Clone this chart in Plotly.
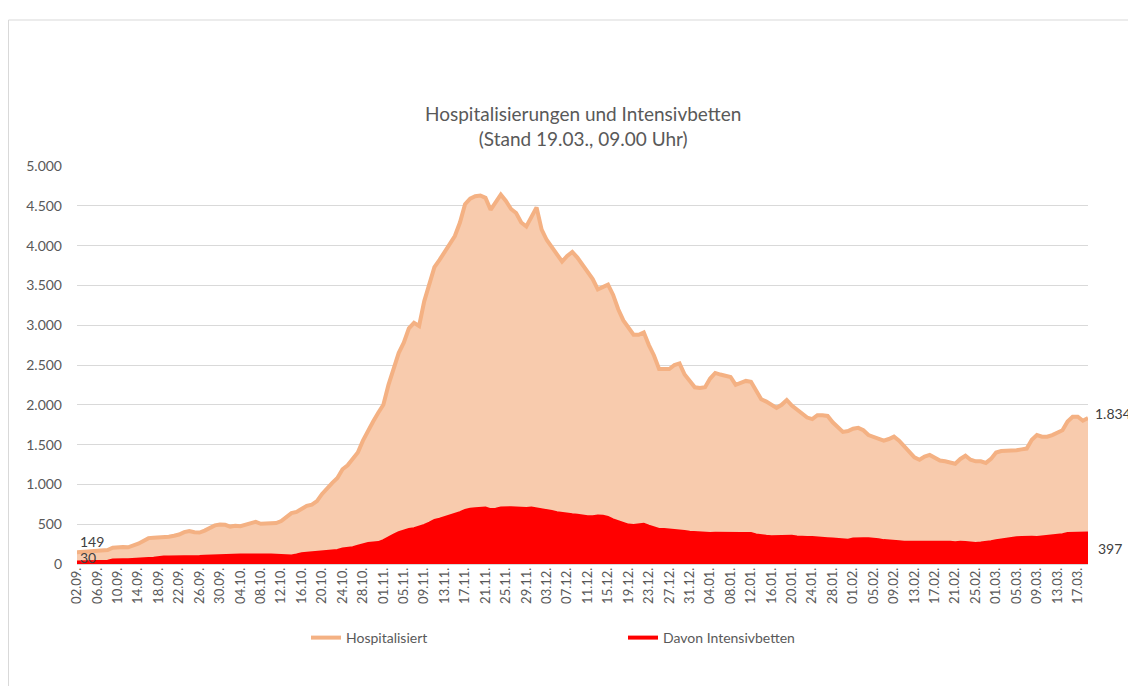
import pandas as pd
import plotly.graph_objects as go

# ---- data ----
dates = [d.strftime("%d.%m.") for d in pd.date_range("2020-09-02", "2021-03-19", freq="D")]

hospitalisiert = [
    149, 155, 160, 165, 170, 172, 176, 205, 212, 212,
    210, 230, 255, 290, 325, 330, 332, 338, 342, 355,
    370, 400, 415, 400, 395, 420, 455, 485, 495, 492,
    470, 480, 475, 490, 505, 530, 505, 505, 510, 515,
    540, 590, 640, 655, 690, 730, 745, 790, 880, 960,
    1020, 1080, 1190, 1240, 1330, 1400, 1550, 1680, 1790, 1900,
    2000, 2250, 2470, 2650, 2780, 2960, 3030, 2990, 3300, 3530,
    3730, 3820, 3920, 4000, 4120, 4290, 4520, 4590, 4620, 4630,
    4600, 4450, 4550, 4640, 4560, 4460, 4410, 4290, 4240, 4350,
    4480, 4200, 4070, 3980, 3880, 3800, 3870, 3920, 3850, 3760,
    3650, 3580, 3450, 3480, 3510, 3380, 3200, 3060, 2960, 2880,
    2880, 2910, 2750, 2620, 2450, 2450, 2450, 2500, 2520, 2380,
    2300, 2220, 2210, 2220, 2330, 2400, 2380, 2370, 2350, 2250,
    2280, 2300, 2290, 2180, 2070, 2040, 2000, 1960, 2000, 2060,
    1990, 1940, 1900, 1840, 1820, 1870, 1870, 1860, 1780, 1720,
    1660, 1670, 1700, 1710, 1680, 1620, 1600, 1580, 1550, 1570,
    1600, 1550, 1480, 1420, 1340, 1310, 1350, 1370, 1340, 1300,
    1290, 1280, 1260, 1320, 1360, 1310, 1290, 1290, 1270, 1320,
    1400, 1420, 1420, 1420, 1430, 1440, 1450, 1560, 1620, 1600,
    1600, 1620, 1650, 1680, 1790, 1850, 1850, 1800, 1834,
]

intensivbetten = [
    30, 32, 33, 35, 35, 36, 40, 55, 60, 60,
    60, 62, 65, 70, 75, 80, 90, 95, 95, 95,
    100, 100, 102, 100, 102, 105, 108, 110, 112, 115,
    112, 115, 118, 118, 120, 120, 118, 118, 118, 115,
    110, 105, 108, 120, 135, 140, 145, 150, 155, 160,
    165, 175, 195, 200, 210, 230, 250, 265, 270, 275,
    300, 340, 370, 400, 420, 440, 450, 470, 490, 520,
    555, 570, 590, 605, 630, 650, 680, 695, 700, 705,
    710, 690, 695, 710, 715, 712, 710, 705, 705, 710,
    700, 685, 675, 665, 650, 640, 630, 625, 620, 610,
    600, 600, 610, 605, 590, 560, 540, 520, 495, 490,
    500, 505, 480, 460, 440, 440, 435, 430, 420, 415,
    405, 400, 395, 390, 390, 392, 390, 390, 385, 385,
    390, 390, 388, 370, 360, 355, 350, 352, 350, 350,
    355, 345, 340, 340, 340, 338, 335, 325, 320, 315,
    318, 305, 320, 325, 325, 325, 322, 310, 300, 298,
    292, 285, 280, 280, 282, 280, 280, 280, 280, 280,
    280, 278, 272, 280, 275, 268, 265, 270, 275, 285,
    300, 310, 315, 325, 335, 340, 345, 342, 338, 345,
    355, 360, 365, 375, 390, 392, 395, 390, 397,
]

series_names = ["Hospitalisiert", "Davon Intensivbetten"]
tick_labels = dates[::4]
y_ticks = [0, 500, 1000, 1500, 2000, 2500, 3000, 3500, 4000, 4500, 5000]

HOSP_LINE = "#F4B183"
HOSP_FILL = "#F8CBAD"
ICU = "#FF0000"
GRAY = "#595959"
FONT = "Lato"

# figure geometry (page has an 8px body margin)
W, H = 1128, 678
ML, MR, MT, MB = 69, 48, 158, 122
PW = W - ML - MR
PH = H - MT - MB


def de_num(v):
    return f"{v:,}".replace(",", ".")


fig = go.Figure()

fig.add_trace(go.Scatter(
    x=dates, y=hospitalisiert, mode="lines", fill="tozeroy",
    fillcolor=HOSP_FILL, line=dict(color=HOSP_LINE, width=4),
    showlegend=False, hoverinfo="x+y",
))
fig.add_trace(go.Scatter(
    x=dates, y=intensivbetten, mode="lines", fill="tozeroy",
    fillcolor=ICU, line=dict(color=ICU, width=2),
    showlegend=False, hoverinfo="x+y",
))
# legend entries (line samples)
fig.add_trace(go.Scatter(x=[None], y=[None], mode="lines", name=series_names[0],
                         line=dict(color=HOSP_LINE, width=4)))
fig.add_trace(go.Scatter(x=[None], y=[None], mode="lines", name=series_names[1],
                         line=dict(color=ICU, width=4)))

# data labels
lab_font = dict(family=FONT, size=14, color="#404040")
fig.add_annotation(x=dates[0], y=hospitalisiert[0], text=str(hospitalisiert[0]),
                   showarrow=False, xanchor="left", yanchor="middle", xshift=1, yshift=11,
                   font=lab_font)
fig.add_annotation(x=dates[0], y=intensivbetten[0], text=str(intensivbetten[0]),
                   showarrow=False, xanchor="left", yanchor="middle", xshift=1, yshift=4,
                   font=lab_font)
fig.add_annotation(x=dates[-1], y=hospitalisiert[-1], text=de_num(hospitalisiert[-1]),
                   showarrow=False, xanchor="left", yanchor="middle", xshift=5, yshift=5,
                   font=lab_font)
fig.add_annotation(x=dates[-1], y=intensivbetten[-1], text=de_num(intensivbetten[-1]),
                   showarrow=False, xanchor="left", yanchor="middle", xshift=8, yshift=-16,
                   font=lab_font)

# title
fig.add_annotation(xref="paper", yref="paper", x=0.5, y=1.0, yshift=40,
                   text="Hospitalisierungen und Intensivbetten<br>(Stand 19.03., 09.00 Uhr)",
                   showarrow=False, xanchor="center", yanchor="middle", align="center",
                   font=dict(family=FONT, size=19, color=GRAY))

# chart border (left and top edges)
fig.add_shape(type="rect", xref="paper", yref="paper",
              x0=(0.5 - ML) / PW, x1=(W + 20 - ML) / PW,
              y0=(H - MB - (H + 20)) / PH, y1=(H - MB - 12) / PH,
              line=dict(color="#D9D9D9", width=1), fillcolor="rgba(0,0,0,0)", layer="below")

fig.update_layout(
    width=W, height=H,
    margin=dict(l=ML, r=MR, t=MT, b=MB),
    paper_bgcolor="white", plot_bgcolor="white",
    separators=",.",
    font=dict(family=FONT, color=GRAY),
    showlegend=True,
    legend=dict(orientation="h", x=(298 - ML) / PW, xanchor="left",
                y=(H - MB - 630) / PH, yanchor="middle",
                entrywidth=272, entrywidthmode="pixels", itemwidth=30,
                font=dict(family=FONT, size=14, color=GRAY), bgcolor="rgba(0,0,0,0)"),
    xaxis=dict(type="category", range=[0, len(dates) - 1], tickmode="array",
               tickvals=tick_labels, ticktext=tick_labels, tickangle=-90,
               showgrid=False, showline=False, ticks="", zeroline=False,
               tickfont=dict(family=FONT, size=13, color=GRAY)),
    yaxis=dict(range=[0, 5000], tickmode="array", tickvals=y_ticks,
               tickformat=",d", showgrid=True, gridcolor="#D9D9D9", gridwidth=1,
               zeroline=True, zerolinecolor="#D9D9D9", zerolinewidth=1,
               showline=False, ticks="", ticklabelstandoff=14,
               tickfont=dict(family=FONT, size=14, color=GRAY)),
)

fig.write_html("out.html")
